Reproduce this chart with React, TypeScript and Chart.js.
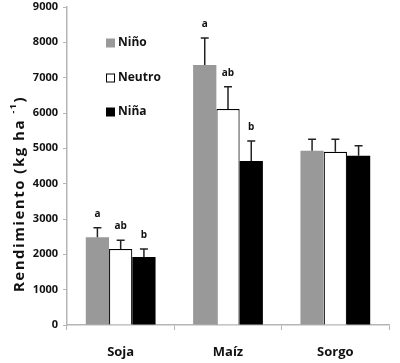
import React, { useEffect, useRef } from "react";
import { Chart, registerables } from "chart.js";

Chart.register(...registerables);

const categories = ["Soja", "Maíz", "Sorgo"];
const seriesNames = ["Niño", "Neutro", "Niña"];
const ninoValues = [2480, 7360, 4930];
const neutroValues = [2150, 6110, 4900];
const ninaValues = [1925, 4640, 4790];
const ninoErrors = [270, 760, 330];
const neutroErrors = [250, 630, 360];
const ninaErrors = [225, 570, 280];
const ninoLetters = ["a", "a", ""];
const neutroLetters = ["ab", "ab", ""];
const ninaLetters = ["b", "b", ""];
const yTicks = [0, 1000, 2000, 3000, 4000, 5000, 6000, 7000, 8000, 9000];

const FONT = "'Open Sans', 'DejaVu Sans', sans-serif";

const overlayPlugin = {
  id: "overlay",
  afterDatasetsDraw(chart: any) {
    const ctx = chart.ctx;
    const y = chart.scales.y;
    const errs = [ninoErrors, neutroErrors, ninaErrors];
    const letters = [ninoLetters, neutroLetters, ninaLetters];
    ctx.save();
    chart.data.datasets.forEach((ds: any, di: number) => {
      const meta = chart.getDatasetMeta(di);
      meta.data.forEach((bar: any, i: number) => {
        const v = ds.data[i];
        const top = y.getPixelForValue(v + errs[di][i]);
        const base = y.getPixelForValue(v);
        ctx.strokeStyle = "#222";
        ctx.lineWidth = 1.5;
        ctx.beginPath();
        ctx.moveTo(bar.x, base);
        ctx.lineTo(bar.x, top);
        ctx.moveTo(bar.x - 4, top);
        ctx.lineTo(bar.x + 4, top);
        ctx.stroke();
        const t = letters[di][i];
        if (t) {
          ctx.fillStyle = "#111";
          ctx.font = "bold 10px " + FONT;
          ctx.textAlign = "center";
          ctx.textBaseline = "bottom";
          ctx.fillText(t, bar.x, top - 9);
        }
      });
    });
    // legend
    const legendColors = ["#999999", "#ffffff", "#000000"];
    const legendY = [43, 78, 112];
    seriesNames.forEach((n, i) => {
      const ly = legendY[i];
      ctx.fillStyle = legendColors[i];
      ctx.fillRect(106, ly - 4.5, 9, 9);
      if (i === 1) {
        ctx.strokeStyle = "#000";
        ctx.lineWidth = 1;
        ctx.strokeRect(106.5, ly - 4, 8, 8);
      }
      ctx.fillStyle = "#111";
      ctx.font = "bold 12px " + FONT;
      ctx.textAlign = "left";
      ctx.textBaseline = "middle";
      ctx.fillText(n, 118, ly);
    });
    // y axis title
    ctx.translate(20, 194);
    ctx.rotate(-Math.PI / 2);
    ctx.fillStyle = "#111";
    ctx.textBaseline = "middle";
    ctx.font = "bold 15px " + FONT;
    (ctx as any).letterSpacing = "1.5px";
    const main = "Rendimiento (kg ha ";
    const sup = "-1";
    const close = ")";
    const w1 = ctx.measureText(main).width;
    ctx.font = "bold 9px " + FONT;
    const w2 = ctx.measureText(sup).width;
    ctx.font = "bold 15px " + FONT;
    const w3 = ctx.measureText(close).width;
    const total = w1 + w2 + w3;
    let x = -total / 2;
    ctx.textAlign = "left";
    ctx.fillText(main, x, 0);
    x += w1;
    ctx.font = "bold 9px " + FONT;
    ctx.fillText(sup, x, -7);
    x += w2;
    ctx.font = "bold 15px " + FONT;
    ctx.fillText(close, x, 0);
    ctx.restore();
  },
};

export default function App() {
  const ref = useRef<HTMLCanvasElement>(null);
  useEffect(() => {
    document.body.style.margin = "0";
    const chart = new Chart(ref.current!, {
      type: "bar",
      data: {
        labels: categories,
        datasets: [
          { label: seriesNames[0], data: ninoValues, backgroundColor: "#999999", borderWidth: 0 },
          { label: seriesNames[1], data: neutroValues, backgroundColor: "#ffffff", borderColor: "#000000", borderWidth: 1.2 },
          { label: seriesNames[2], data: ninaValues, backgroundColor: "#000000", borderWidth: 0 },
        ],
      },
      options: {
        animation: false,
        responsive: false,
        maintainAspectRatio: false,
        layout: { padding: { left: 0, right: 11, top: 0, bottom: 0 } },
        plugins: { legend: { display: false }, tooltip: { enabled: false } },
        datasets: { bar: { categoryPercentage: 0.65, barPercentage: 1 } },
        scales: {
          x: {
            grid: { drawOnChartArea: false, tickLength: 5, color: "#b5b5b5", offset: true },
            border: { color: "#b5b5b5", width: 1.5 },
            ticks: { color: "#111", font: { family: FONT, size: 13, weight: "bold" }, padding: 14 },
            afterFit(s: any) { s.height = 38; },
          },
          y: {
            min: 0,
            max: 9000,
            afterBuildTicks(s: any) { s.ticks = yTicks.map((v) => ({ value: v })); },
            grid: { drawOnChartArea: false, tickLength: 4, color: "#b5b5b5" },
            border: { color: "#b5b5b5", width: 1.5 },
            ticks: {
              color: "#111",
              font: { family: FONT, size: 11, weight: "bold" },
              padding: 5,
              callback: (v: any) => String(v),
            },
            afterFit(s: any) { s.width = 67; s.paddingTop = 7; },
          },
        },
      },
      plugins: [overlayPlugin],
    });
    return () => chart.destroy();
  }, []);
  return (
    <div style={{ width: 400, height: 363 }}>
      <canvas ref={ref} width={400} height={363} style={{ width: 400, height: 363, display: "block" }} />
    </div>
  );
}
